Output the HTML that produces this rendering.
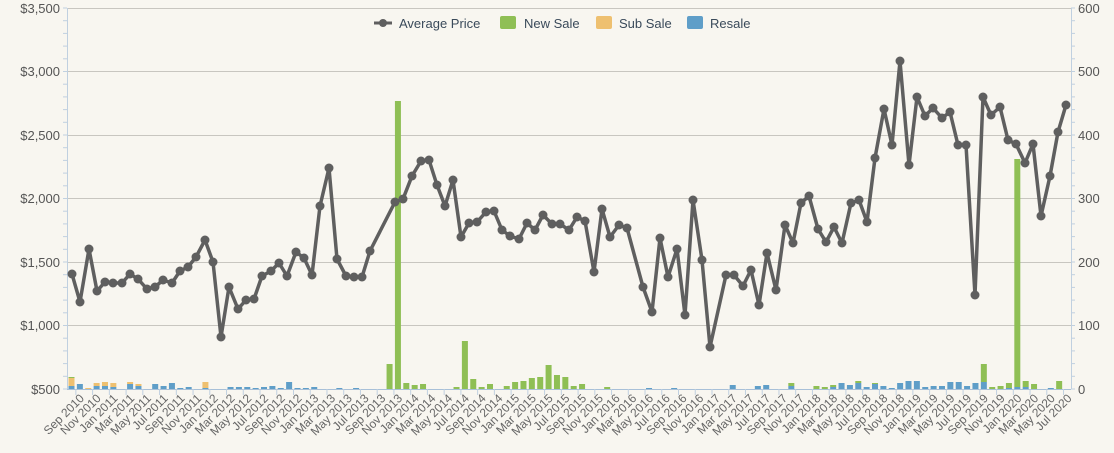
<!DOCTYPE html>
<html><head><meta charset="utf-8"><style>
html,body{margin:0;padding:0;background:#f8f6f0;}
svg{display:block;font-family:"Liberation Sans",sans-serif;}
</style></head><body>
<svg id="c" width="1114" height="453" viewBox="0 0 1114 453" xmlns="http://www.w3.org/2000/svg">
<rect width="1114" height="453" fill="#f8f6f0"/>
<g stroke="#c8c6c0" stroke-width="1">
<line x1="67" x2="1071" y1="8.5" y2="8.5"/>
<line x1="67" x2="1071" y1="71.5" y2="71.5"/>
<line x1="67" x2="1071" y1="135.5" y2="135.5"/>
<line x1="67" x2="1071" y1="198.5" y2="198.5"/>
<line x1="67" x2="1071" y1="262.5" y2="262.5"/>
<line x1="67" x2="1071" y1="325.5" y2="325.5"/>
</g>
<line x1="67.5" x2="67.5" y1="8" y2="389" stroke="#c0d0e0"/>
<line x1="1071.5" x2="1071.5" y1="8" y2="389" stroke="#c0d0e0"/>
<g id="bars"></g>
<line x1="67" x2="1071" y1="389.5" y2="389.5" stroke="#a8c0d8"/>
<g id="ticks" stroke="#c0d0e0"></g>
<g fill="#555" font-size="13" text-anchor="end">
<text x="60" y="13">$3,500</text><text x="60" y="76">$3,000</text><text x="60" y="140">$2,500</text>
<text x="60" y="203">$2,000</text><text x="60" y="267">$1,500</text><text x="60" y="330">$1,000</text>
<text x="60" y="394">$500</text>
</g>
<g fill="#555" font-size="13" text-anchor="start">
<text x="1078" y="13">600</text><text x="1078" y="76">500</text><text x="1078" y="140">400</text>
<text x="1078" y="203">300</text><text x="1078" y="267">200</text><text x="1078" y="330">100</text>
<text x="1078" y="394">0</text>
</g>
<polyline id="line" fill="none" stroke="#5f5f5f" stroke-width="3.5" stroke-linejoin="round"/>
<g id="dots" fill="#5f5f5f"></g>
<g id="xl" fill="#666" font-size="12" text-anchor="end"></g>
<g font-size="13" fill="#3a4a5a">
<line x1="374" x2="392" y1="23" y2="23" stroke="#5f5f5f" stroke-width="3"/>
<circle cx="383" cy="23" r="4" fill="#5f5f5f"/>
<text x="399" y="28">Average Price</text>
<rect x="500" y="16" width="16" height="13" rx="2" fill="#8fbf55"/>
<text x="524" y="28">New Sale</text>
<rect x="596" y="16" width="16" height="13" rx="2" fill="#eec070"/>
<text x="619" y="28">Sub Sale</text>
<rect x="687" y="16" width="16" height="13" rx="2" fill="#5f9ec8"/>
<text x="710" y="28">Resale</text>
</g>
</svg>
<script>
var NS="http://www.w3.org/2000/svg";
function el(p,t,a){var e=document.createElementNS(NS,t);for(var k in a)e.setAttribute(k,a[k]);p.appendChild(e);return e;}
var pts=[[72,274],[80,302],[89,249],[97,291],[105,282],[113,283],[122,283],[130,274],[138,279],[147,289],[155,287],[163,280],[172,283],[180,271],[188,267],[196,257],[205,240],[213,262],[221,337],[229,287],[238,309],[246,300],[254,299],[262,276],[271,271],[279,263],[287,276],[296,252],[304,258],[312,275],[320,206],[329,168],[337,259],[346,276],[354,277],[362,277],[370,251],[395,202],[403,199],[412,176],[421,161],[429,160],[437,185],[445,206],[453,180],[461,237],[469,223],[477,222],[486,212],[494,211],[502,230],[510,236],[519,239],[527,223],[535,230],[543,215],[552,224],[560,224],[569,230],[577,217],[585,221],[594,272],[602,209],[610,237],[619,225],[627,228],[643,287],[652,312],[660,238],[668,277],[677,249],[685,315],[693,200],[702,260],[710,347],[726,275],[734,275],[743,286],[751,270],[759,305],[767,253],[776,290],[785,225],[793,243],[801,203],[809,196],[818,229],[826,242],[834,227],[842,243],[851,203],[859,200],[867,222],[875,158],[884,109],[892,145],[900,61],[909,165],[917,97],[925,116],[933,108],[942,118],[950,112],[958,145],[966,145],[975,295],[983,97],[991,115],[1000,107],[1008,140],[1016,144],[1025,163],[1033,144],[1041,216],[1050,176],[1058,132],[1066,105]];
document.getElementById("line").setAttribute("points",pts.map(function(p){return p.join(",")}).join(" "));
var d=document.getElementById("dots");
pts.forEach(function(p){el(d,"circle",{cx:p[0],cy:p[1],r:4.5});});
var B=[[0,3,8,1],[1,5,0,0],[2,0,1,0],[3,3,3,0],[4,3,4,0],[5,2,4,0],[7,5,2,0],[8,3,2,0],[10,5,0,0],[11,3,0,0],[12,6,0,0],[13,1,0,0],[14,2,0,0],[16,1,6,0],[19,2,0,0],[20,2,0,0],[21,2,0,0],[22,1,0,0],[23,2,0,0],[24,3,0,0],[25,1,0,0],[26,7,0,0],[27,1,0,0],[28,1,0,0],[29,2,0,0],[32,1,0,0],[34,1,0,0],
[38,0,0,25],[39,0,0,288],[40,0,0,6],[41,0,0,4],[42,0,0,5],[46,0,0,2],[47,0,0,48],[48,0,0,10],[49,0,0,2],[50,0,0,5],[52,0,0,3],[53,0,0,7],[54,0,0,8],[55,0,0,11],[56,0,0,12],[57,0,0,24],[58,0,0,14],[59,0,0,12],[60,0,0,3],[61,0,0,5],[64,0,0,2],[69,1,0,0],[72,1,0,0],
[79,4,0,0],[82,3,0,0],[83,4,0,0],[86,3,0,3],[89,0,0,3],[90,0,0,2],[91,2,0,2],[92,6,0,0],[93,4,0,0],[94,6,0,2],[95,2,0,0],[96,5,0,1],[97,3,0,0],[98,1,0,0],[99,6,0,0],[100,8,0,0],[101,8,0,0],[102,2,0,0],[103,3,0,0],[104,3,0,0],[105,7,0,0],[106,7,0,0],[107,3,0,0],[108,6,0,0],
[109,7,0,18],[110,0,0,2],[111,0,0,3],[112,1,0,5],[113,2,0,228],[114,2,0,6],[115,0,0,5],[117,1,0,0],[118,0,0,8]];
var bg=document.getElementById("bars");
B.forEach(function(b){var x=71.5+8.37*b[0]-3;var y=389;
 if(b[1]){y-=b[1];el(bg,"rect",{x:x,y:y,width:6,height:b[1],fill:"#5f9ec8"});}
 if(b[2]){y-=b[2];el(bg,"rect",{x:x,y:y,width:6,height:b[2],fill:"#eec070"});}
 if(b[3]){y-=b[3];el(bg,"rect",{x:x,y:y,width:6,height:b[3],fill:"#8fbf55"});}
});
var M=["Jan","Feb","Mar","Apr","May","Jun","Jul","Aug","Sep","Oct","Nov","Dec"];
var xl=document.getElementById("xl"),tk=document.getElementById("ticks");
for(var i=1;i<120;i+=2){var m=(7+i)%12,yr=2010+Math.floor((7+i)/12);var x=71.5+8.37*i;
 el(tk,"line",{x1:x-4,x2:x-4,y1:389,y2:395});
 var t=el(xl,"text",{x:x+5,y:399,transform:"rotate(-45 "+(x+5)+" 399)"});t.textContent=M[m]+" "+yr;}
var rt=document.getElementById("ticks");
for(var j=0;j<=30;j++){var yy=8+j*12.7;el(rt,"line",{x1:1071,x2:1075,y1:yy,y2:yy});el(rt,"line",{x1:63,x2:67,y1:yy,y2:yy});}
</script>
</body></html>
